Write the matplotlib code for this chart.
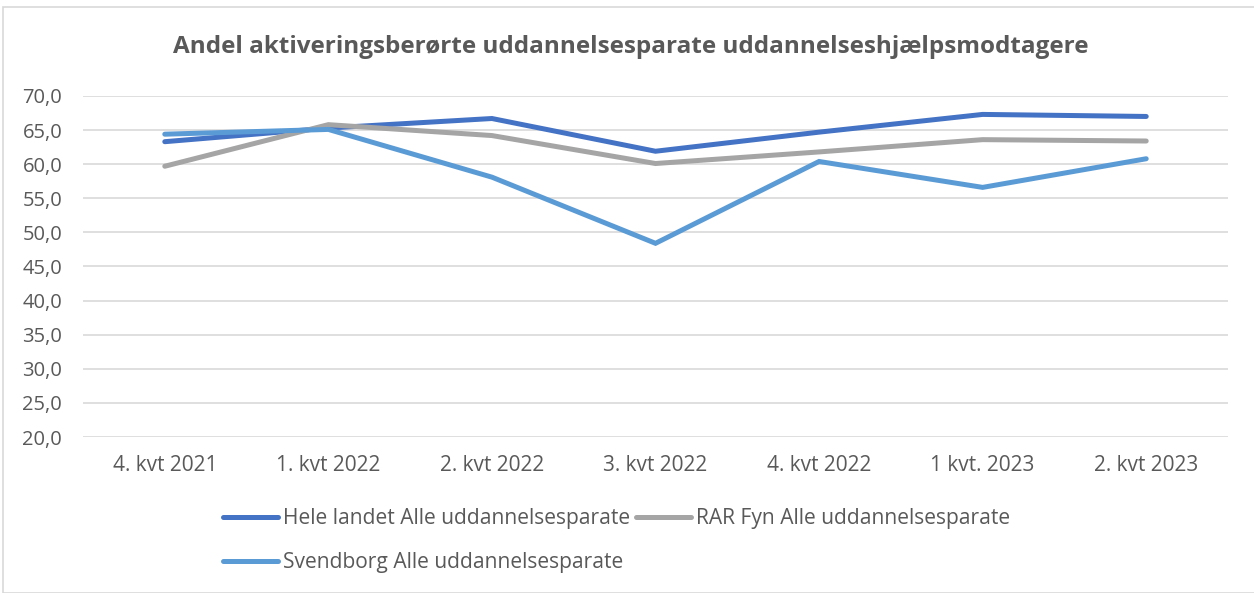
import matplotlib
matplotlib.use("Agg")
import matplotlib.pyplot as plt
from matplotlib.patches import Rectangle
from matplotlib.ticker import FuncFormatter, MultipleLocator

categories = ["4. kvt 2021", "1. kvt 2022", "2. kvt 2022", "3. kvt 2022",
              "4. kvt 2022", "1 kvt. 2023", "2. kvt 2023"]
hele_landet = [63.3, 65.3, 66.7, 61.9, 64.7, 67.3, 67.0]
rar_fyn = [59.7, 65.8, 64.2, 60.1, 61.8, 63.6, 63.4]
svendborg = [64.4, 65.1, 58.1, 48.4, 60.4, 56.6, 60.8]

title = "Andel aktiveringsberørte uddannelsesparate uddannelseshjælpsmodtagere"
labels = ["Hele landet Alle uddannelsesparate", "RAR Fyn Alle uddannelsesparate",
          "Svendborg Alle uddannelsesparate"]
colors = ["#4472C4", "#A5A5A5", "#5B9BD5"]

plt.rcParams['font.family'] = ['Open Sans', 'DejaVu Sans']
txt = "#595959"

W, H = 1254, 593
fig = plt.figure(figsize=(W / 100, H / 100), dpi=100)
fig.patches.append(Rectangle((3 / W, 0), 1, 1 - 7 / H, transform=fig.transFigure,
                             fill=False, edgecolor="#D9D9D9", linewidth=1.2))

ax = fig.add_axes([83 / W, 1 - 437 / H, (1228 - 83) / W, (437 - 96) / H])
x = list(range(len(categories)))
lines = []
for vals, c, lab in zip([hele_landet, rar_fyn, svendborg], colors, labels):
    l, = ax.plot(x, vals, color=c, linewidth=3.6, solid_capstyle="round",
                 solid_joinstyle="miter", label=lab)
    lines.append(l)

ax.set_xlim(-0.5, len(categories) - 0.5)
ax.set_ylim(20, 70)
ax.yaxis.set_major_locator(MultipleLocator(5))
ax.yaxis.set_major_formatter(FuncFormatter(lambda v, p: f"{v:.1f}".replace(".", ",")))
ax.set_xticks(x)
ax.set_xticklabels(categories)
ax.grid(axis="y", color="#D9D9D9", linewidth=1.2)
ax.set_axisbelow(True)
for s in ax.spines.values():
    s.set_visible(False)
ax.tick_params(axis="y", length=0, labelsize=14.5, labelcolor=txt, pad=15)
ax.tick_params(axis="x", length=0, labelsize=15, labelcolor=txt, pad=13)

fig.text(631 / W, 1 - 47 / H, title, ha="center", va="center", fontsize=17.5,
         fontweight="bold", color=txt)

leg = fig.legend([lines[0], lines[2], lines[1]], [labels[0], labels[2], labels[1]],
                 ncol=2, loc="upper left", bbox_to_anchor=(215 / W, 1 - 500 / H),
                 frameon=False, fontsize=15.1, handlelength=2.6, handletextpad=0.25,
                 columnspacing=0.28, labelspacing=1.1, labelcolor=txt,
                 borderaxespad=0, borderpad=0.4)

fig.savefig("out.png", dpi=100)
